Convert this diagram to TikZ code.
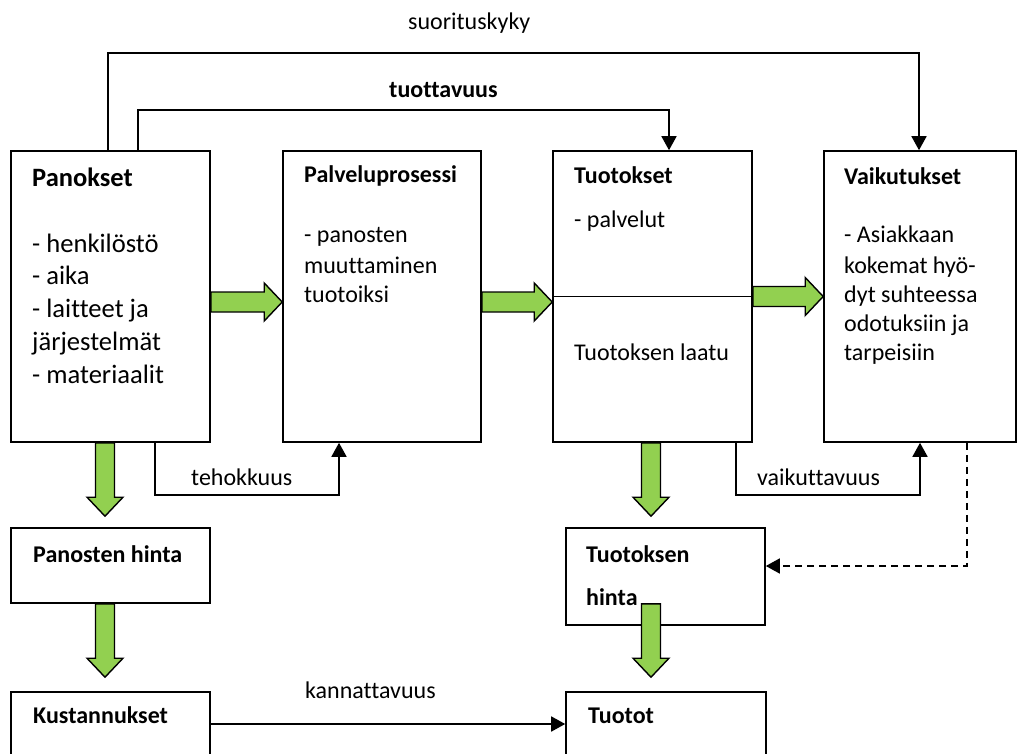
\documentclass[tikz,border=0pt]{standalone}
\usepackage{fontspec}
\setmainfont{Carlito}[Ligatures={NoCommon}]
\usetikzlibrary{arrows.meta,calc}
\definecolor{arrowgreen}{HTML}{92D050}
\newcommand\greenright[2]{\draw[garrow] let \p1=#1, \p2=#2 in
  (\x1,\y1+10pt) -- (\x2-18pt,\y1+10pt) -- (\x2-18pt,\y1+19pt) -- (\x2,\y1)
  -- (\x2-18pt,\y1-19pt) -- (\x2-18pt,\y1-10pt) -- (\x1,\y1-10pt) -- cycle;}
\newcommand\greendown[2]{\draw[garrow] let \p1=#1, \p2=#2 in
  (\x1-9.5pt,\y1) -- (\x1+9.5pt,\y1) -- (\x1+9.5pt,\y2+19pt) -- (\x1+18pt,\y2+19pt)
  -- (\x1,\y2) -- (\x1-18pt,\y2+19pt) -- (\x1-9.5pt,\y2+19pt) -- cycle;}
\begin{document}
\begin{tikzpicture}[x=1pt,y=-1pt,
  box/.style={draw=black,line width=1.6pt,rectangle,inner sep=0pt,fill=white},
  garrow/.style={fill=arrowgreen,draw=black,line width=1.4pt,line join=miter},
  conn/.style={draw=black,line width=1.6pt,-{Triangle[width=15pt,length=14pt]}},
  txt/.style={anchor=base west,inner sep=0pt,font=\fontsize{24}{29}\selectfont},
  btxt/.style={anchor=base west,inner sep=0pt,font=\fontsize{24}{29}\selectfont\bfseries},
  ptxt/.style={anchor=base west,inner sep=0pt,font=\fontsize{26.6}{33}\selectfont},
  pbtxt/.style={anchor=base west,inner sep=0pt,font=\fontsize{26.5}{33}\selectfont\bfseries}]
\clip (0,0) rectangle (1017,754);
\fill[white] (0,0) rectangle (1017,754);
% boxes
\node[box,minimum width=199pt,minimum height=291pt] (pan) at (110.5,296.5) {};
\node[box,minimum width=198pt,minimum height=291pt] (proc) at (382,296.5) {};
\node[box,minimum width=199pt,minimum height=291pt] (out) at (652.5,296.5) {};
\node[box,minimum width=192pt,minimum height=291pt] (eff) at (920,296.5) {};
\node[box,minimum width=199pt,minimum height=75pt] (ph) at (110.5,565.5) {};
\node[box,minimum width=199pt,minimum height=88pt] (kust) at (110.5,736) {};
\node[box,minimum width=199pt,minimum height=97pt] (th) at (665.5,576.5) {};
\node[box,minimum width=200pt,minimum height=88pt] (tuotot) at (666,736) {};
\draw[line width=1.8pt] (out.west) -- (out.east);
% texts
\node[pbtxt] (panh) at (32,187) {Panokset};
\node[ptxt] (pan1) at (32,252) {- henkilöstö};
\node[ptxt] (pan2) at (32,284) {- aika};
\node[ptxt] (pan3) at (32,317) {- laitteet ja};
\node[ptxt] (pan4) at (32,350) {järjestelmät};
\node[ptxt] (pan5) at (32,383) {- materiaalit};
\node[btxt] (proch) at (304,183) {Palveluprosessi};
\node[txt] (proc1) at (304,243) {- panosten};
\node[txt] (proc2) at (304,273) {muuttaminen};
\node[txt] (proc3) at (304,302) {tuotoiksi};
\node[btxt] (outh) at (574,184) {Tuotokset};
\node[txt] (out1) at (574,228) {- palvelut};
\node[txt] (out2) at (574,360) {Tuotoksen laatu};
\node[btxt] (effh) at (844,185) {Vaikutukset};
\node[txt] (eff1) at (844,243) {- Asiakkaan};
\node[txt] (eff2) at (844,273) {kokemat hyö-};
\node[txt] (eff3) at (844,302) {dyt suhteessa};
\node[txt] (eff4) at (844,331) {odotuksiin ja};
\node[txt] (eff5) at (844,360) {tarpeisiin};
\node[btxt] (phh) at (33,562) {Panosten hinta};
\node[btxt] (kusth) at (33,723) {Kustannukset};
\node[btxt] (thh1) at (586,562) {Tuotoksen};
\node[btxt] (thh2) at (586,605) {hinta};
\node[btxt] (tuototh) at (588,723) {Tuotot};
% labels
\node[txt] (lsuor) at (408,30) {suorituskyky};
\node[btxt] (ltuot) at (389,98) {tuottavuus};
\node[txt] (lteho) at (191,485) {tehokkuus};
\node[txt] (lvaik) at (757,485) {vaikuttavuus};
\node[txt] (lkann) at (305,698) {kannattavuus};
% connectors
\coordinate (s1) at (108,53);
\coordinate (t1) at (138,110);
\coordinate (e1) at (155,495);
\coordinate (v1) at (736,495);
\coordinate (d1) at (967,566);
\draw[conn] ($(pan.north)+(-2.5,0)$) |- (s1) -| ($(eff.north)+(-1,0)$);
\draw[conn] ($(pan.north)+(27.5,0)$) |- (t1) -| ($(out.north)+(16.5,0)$);
\draw[conn] ($(pan.south)+(44.5,0)$) |- (e1) -| ($(proc.south)+(-43,0)$);
\draw[conn] ($(out.south)+(83.5,0)$) |- (v1) -| (eff.south);
\draw[conn,dash pattern=on 7pt off 5pt] ($(eff.south)+(47,0)$) |- (d1) -- ($(th.east)+(0,-10.5)$);
\draw[conn] ($(kust.east)+(0,-12)$) -- ($(tuotot.west)+(0,-12)$);
% green arrows
\greenright{($(pan.east)+(0,5.5)$)}{($(proc.west)+(0,5.5)$)}
\greenright{($(proc.east)+(0,5.5)$)}{($(out.west)+(0,5.5)$)}
\greenright{(out.east)}{(eff.west)}
\greendown{($(pan.south)+(-5.5,0)$)}{($(ph.north)+(-5.5,-11)$)}
\greendown{($(ph.south)+(-5.5,0)$)}{($(kust.north)+(-5.5,-14)$)}
\greendown{($(out.south)+(-1.5,0)$)}{($(th.north)+(-14.5,-11)$)}
\greendown{($(th.south)+(-14.5,-22)$)}{($(tuotot.north)+(-15,-14)$)}
\end{tikzpicture}
\end{document}
